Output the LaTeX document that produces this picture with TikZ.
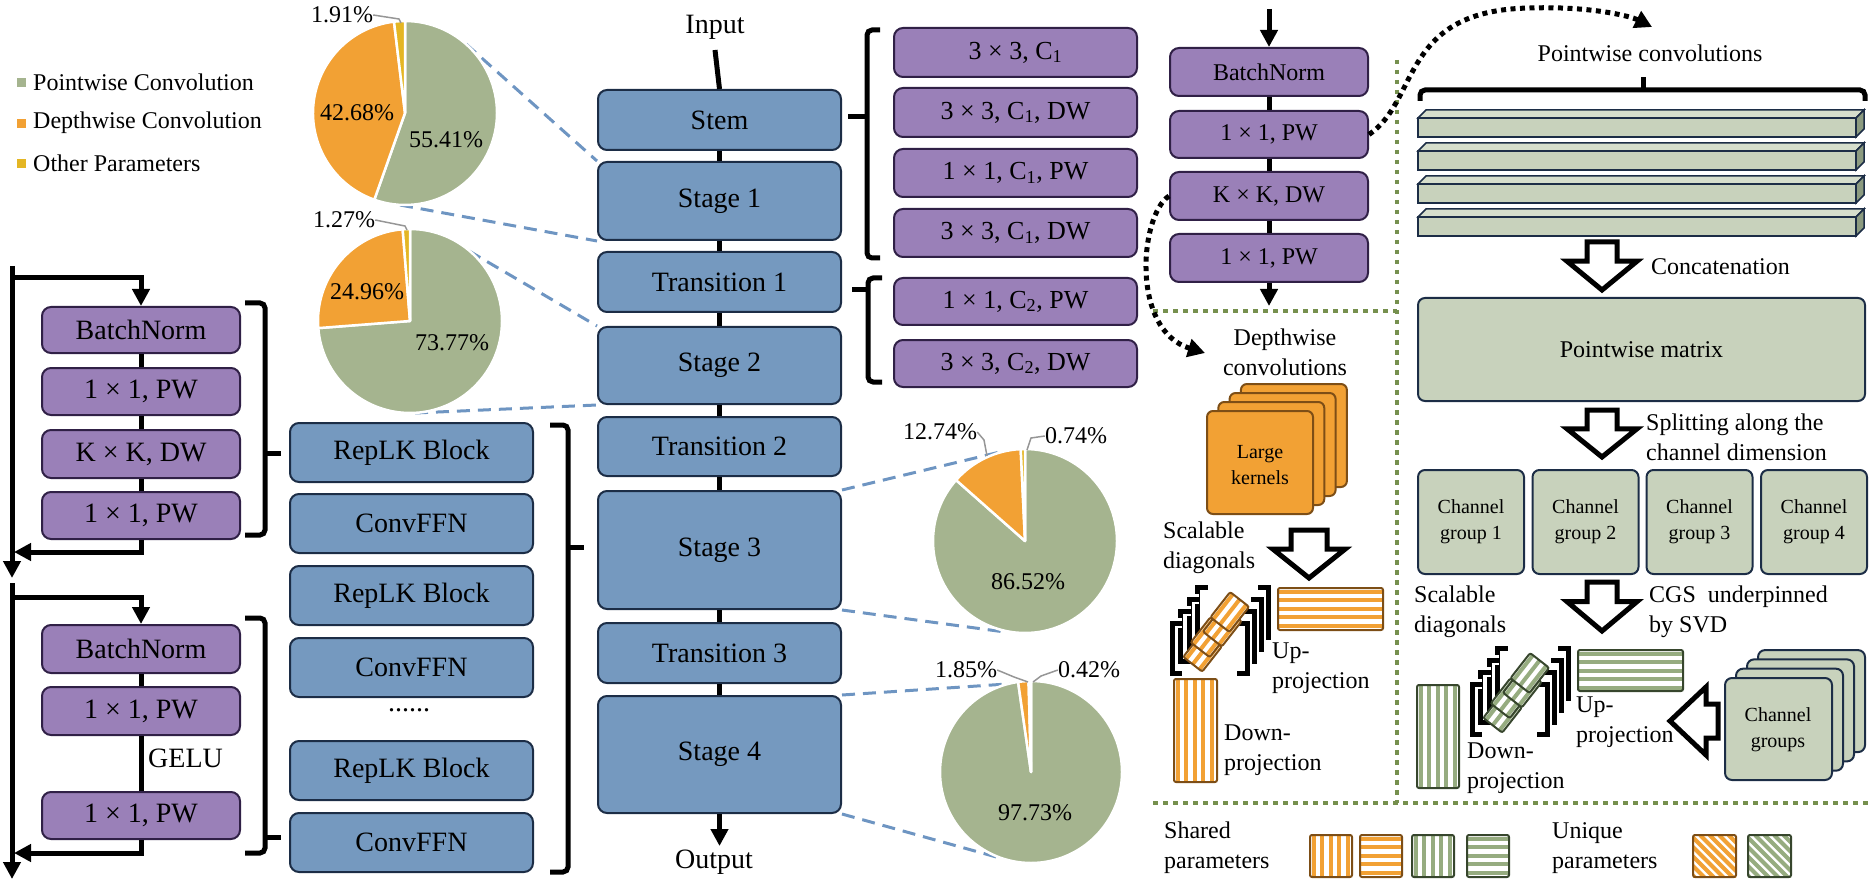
\documentclass[tikz,border=0pt]{standalone}
\usepackage{fontspec}
\setmainfont{Liberation Serif}
\usetikzlibrary{arrows.meta,calc}
\definecolor{bluebox}{RGB}{117,153,191}
\definecolor{blueedge}{RGB}{28,45,70}
\definecolor{purplebox}{RGB}{154,128,184}
\definecolor{purpleedge}{RGB}{48,32,70}
\definecolor{piegreen}{RGB}{165,180,143}
\definecolor{pieorange}{RGB}{242,161,52}
\definecolor{pieyellow}{RGB}{228,182,36}
\definecolor{lightgreen}{RGB}{200,210,188}
\definecolor{topgreen}{RGB}{214,222,204}
\definecolor{sidegreen}{RGB}{140,155,128}
\definecolor{dashblue}{RGB}{110,149,194}
\definecolor{dotgreen}{RGB}{118,144,78}
\definecolor{orangeedge}{RGB}{125,78,22}
\definecolor{stripegreen}{RGB}{150,172,128}
\definecolor{greenborder}{RGB}{55,70,45}
\definecolor{leader}{RGB}{150,150,150}
\newcommand\fsBig{\fontsize{28}{32}\selectfont}
\newcommand\fsMid{\fontsize{26}{30}\selectfont}
\newcommand\fsTxt{\fontsize{24}{30}\selectfont}
\newcommand\fsSml{\fontsize{20}{26}\selectfont}
% striped boxes: x1,y1,x2,y2,stripe colour,edge colour
\newcommand\stripeH[6]{%
  \fill[white] (#1,#2) rectangle (#3,#4);
  \begin{scope}
    \clip (#1,#2) rectangle (#3,#4);
    \foreach \ii in {0,...,13}{\draw[#5,line width=4pt] (#1,#2+3.5+\ii*8.5) -- (#3,#2+3.5+\ii*8.5);}
  \end{scope}
  \draw[#6,line width=2pt,rounded corners=2pt] (#1,#2) rectangle (#3,#4);}
\newcommand\stripeV[6]{%
  \fill[white] (#1,#2) rectangle (#3,#4);
  \begin{scope}
    \clip (#1,#2) rectangle (#3,#4);
    \foreach \ii in {0,...,13}{\draw[#5,line width=4pt] (#1+3.5+\ii*8.5,#2) -- (#1+3.5+\ii*8.5,#4);}
  \end{scope}
  \draw[#6,line width=2pt,rounded corners=2pt] (#1,#2) rectangle (#3,#4);}
\newcommand\stripeD[6]{%
  \fill[white] (#1,#2) rectangle (#3,#4);
  \begin{scope}
    \clip (#1,#2) rectangle (#3,#4);
    \foreach \ii in {0,...,14}{\draw[#5,line width=4pt] (#1-50+\ii*9.5,#2) -- (#1+10+\ii*9.5,#2+60);}
  \end{scope}
  \draw[#6,line width=2pt,rounded corners=2pt] (#1,#2) rectangle (#3,#4);}
% pie slice: centre, radius, start, end, colour
\newcommand\slice[5]{\fill[#5,draw=white,line width=2.5pt,line join=round] (#1) -- ++(#3:#2) arc[start angle=#3,end angle=#4,radius=#2] -- cycle;}
% hollow down arrow: cx, top, bottom, shaft half, head half
\newcommand\hollowdown[5]{\draw[hollow] (#1-#4,#2) -- (#1+#4,#2) -- (#1+#4,{#2+(#3-#2)*0.4}) -- (#1+#5,{#2+(#3-#2)*0.4}) -- (#1,#3) -- (#1-#5,{#2+(#3-#2)*0.4}) -- (#1-#4,{#2+(#3-#2)*0.4}) -- cycle;}
% scalable-diagonal cluster: x, y, stripe colour, edge colour
\newcommand\diagcl[4]{%
\begin{scope}[shift={(#1,#2)}]
  \foreach \k in {3,2,1,0}{
    \draw[white,line width=10pt] ({8.5*\k+10},{36-12*\k}) -- ({8.5*\k},{36-12*\k}) -- ({8.5*\k},{86-12*\k}) -- ({8.5*\k+10},{86-12*\k});
    \draw[line width=5pt] ({8.5*\k+10},{36-12*\k}) -- ({8.5*\k},{36-12*\k}) -- ({8.5*\k},{86-12*\k}) -- ({8.5*\k+10},{86-12*\k});
    \draw[white,line width=10pt] ({75+7*\k-10},{36-12*\k}) -- ({75+7*\k},{36-12*\k}) -- ({75+7*\k},{86-12*\k}) -- ({75+7*\k-10},{86-12*\k});
    \draw[line width=5pt] ({75+7*\k-10},{36-12*\k}) -- ({75+7*\k},{36-12*\k}) -- ({75+7*\k},{86-12*\k}) -- ({75+7*\k-10},{86-12*\k});
  }
  \begin{scope}[shift={(47,42)},rotate=52]
    \stripeH{-44}{-11}{-12}{13}{#3}{#4}
    \stripeH{-28}{-14}{4}{10}{#3}{#4}
    \stripeH{-12}{-11}{20}{13}{#3}{#4}
    \stripeH{4}{-14}{36}{10}{#3}{#4}
  \end{scope}
\end{scope}}
\begin{document}
\begin{tikzpicture}[x=1pt,y=-1pt,
 bstyle/.style={draw=blueedge,line width=2pt,fill=bluebox,rounded corners=9pt,minimum width=243pt,font=\fsBig,inner sep=0pt},
 pstyle/.style={draw=purpleedge,line width=2pt,fill=purplebox,rounded corners=9pt,font=\fsBig,inner sep=0pt},
 gstyle/.style={draw=blueedge,line width=2pt,fill=lightgreen,rounded corners=7pt,inner sep=0pt},
 conn/.style={line width=5pt},
 arr/.style={line width=5pt,-{Triangle[length=17pt,width=17pt]}},
 brk/.style={line width=5pt,rounded corners=5pt},
 pdash/.style={dashblue,line width=3pt,dash pattern=on 13pt off 8pt},
 gdot/.style={dotgreen,line width=4.5pt,dash pattern=on 4.5pt off 5.5pt},
 bdot/.style={line width=5pt,dash pattern=on 5pt off 4.5pt,-{Triangle[length=17pt,width=18pt]}},
 hollow/.style={draw=black,fill=white,line width=5pt,line join=miter},
 lead/.style={leader,line width=1.5pt},
 lbl/.style={font=\fsTxt,inner sep=0pt},
]
\useasboundingbox (0,0) rectangle (1870,882);

% ---------- legend ----------
\fill[piegreen] (17,78) rectangle (26,87);
\fill[pieorange] (17,119) rectangle (26,128);
\fill[pieyellow] (17,159) rectangle (26,168);
\node[lbl,anchor=west] (lg1) at (33,82) {Pointwise Convolution};
\node[lbl,anchor=west] (lg2) at (33,123) {Depthwise Convolution};
\node[lbl,anchor=west] (lg3) at (33,163) {Other Parameters};

% ---------- main column ----------
\node[bstyle,minimum height=60pt] (stem) at (719.5,120) {Stem};
\node[bstyle,minimum height=78pt] (st1) at (719.5,201) {Stage 1};
\node[bstyle,minimum height=60pt] (tr1) at (719.5,282) {Transition 1};
\node[bstyle,minimum height=77pt] (st2) at (719.5,365.5) {Stage 2};
\node[bstyle,minimum height=59pt] (tr2) at (719.5,446.5) {Transition 2};
\node[bstyle,minimum height=118pt] (st3) at (719.5,550) {Stage 3};
\node[bstyle,minimum height=60pt] (tr3) at (719.5,653) {Transition 3};
\node[bstyle,minimum height=117pt] (st4) at (719.5,754.5) {Stage 4};
\node[font=\fsBig,inner sep=0pt] (inp) at (715,27) {Input};
\node[font=\fsBig,inner sep=0pt] (outp) at (714,862) {Output};
\draw[conn] (715,50) -- (stem.north);
\draw[conn] (stem.south) -- (st1.north);
\draw[conn] (st1.south) -- (tr1.north);
\draw[conn] (tr1.south) -- (st2.north);
\draw[conn] (st2.south) -- (tr2.north);
\draw[conn] (tr2.south) -- (st3.north);
\draw[conn] (st3.south) -- (tr3.north);
\draw[conn] (tr3.south) -- (st4.north);
\draw[arr] (st4.south) -- (719.5,846);

% ---------- stem purple boxes ----------
\node[pstyle,minimum width=243pt,minimum height=49pt,font=\fsMid] (p1) at (1015.5,52.5) {3 × 3, C\textsubscript{1}};
\node[pstyle,minimum width=243pt,minimum height=49pt,font=\fsMid] (p2) at (1015.5,112.5) {3 × 3, C\textsubscript{1}, DW};
\node[pstyle,minimum width=243pt,minimum height=48pt,font=\fsMid] (p3) at (1015.5,173) {1 × 1, C\textsubscript{1}, PW};
\node[pstyle,minimum width=243pt,minimum height=48pt,font=\fsMid] (p4) at (1015.5,233) {3 × 3, C\textsubscript{1}, DW};
\node[pstyle,minimum width=243pt,minimum height=47pt,font=\fsMid] (p5) at (1015.5,301.5) {1 × 1, C\textsubscript{2}, PW};
\node[pstyle,minimum width=243pt,minimum height=47pt,font=\fsMid] (p6) at (1015.5,363.5) {3 × 3, C\textsubscript{2}, DW};
\draw[brk] (880,30) -- (867,30) -- (867,258) -- (880,258);
\draw[line width=5pt] (867,117) -- (848,117);
\draw[brk] (882,278) -- (868,278) -- (868,382) -- (882,382);
\draw[line width=5pt] (868,290) -- (852,290);

% ---------- RepLK column ----------
\node[bstyle,minimum height=59pt] (rb1) at (411.5,452.5) {RepLK Block};
\node[bstyle,minimum height=59pt] (cf1) at (411.5,523.5) {ConvFFN};
\node[bstyle,minimum height=59pt] (rb2) at (411.5,595.5) {RepLK Block};
\node[bstyle,minimum height=59pt] (cf2) at (411.5,667.5) {ConvFFN};
\node[font=\fsBig,inner sep=0pt] (dots) at (409,710) {......};
\node[bstyle,minimum height=59pt] (rb3) at (411.5,770.5) {RepLK Block};
\node[bstyle,minimum height=59pt] (cf3) at (411.5,842.5) {ConvFFN};
\draw[brk] (550,425) -- (568,425) -- (568,872) -- (550,872);
\draw[line width=5pt] (568,547) -- (584,547);

% ---------- left purple blocks ----------
\node[pstyle,minimum width=198pt,minimum height=46pt] (lbn1) at (141,330) {BatchNorm};
\node[pstyle,minimum width=198pt,minimum height=47pt] (lpw1) at (141,391.5) {1 × 1, PW};
\node[pstyle,minimum width=198pt,minimum height=48pt] (ldw) at (141,454) {K × K, DW};
\node[pstyle,minimum width=198pt,minimum height=47pt] (lpw2) at (141,515.5) {1 × 1, PW};
\node[pstyle,minimum width=198pt,minimum height=48pt] (lbn2) at (141,649) {BatchNorm};
\node[pstyle,minimum width=198pt,minimum height=48pt] (lpw3) at (141,711) {1 × 1, PW};
\node[pstyle,minimum width=198pt,minimum height=47pt] (lpw4) at (141,815.5) {1 × 1, PW};
\node[font=\fsBig,inner sep=0pt,anchor=west] (gelu) at (148,758) {GELU};
\draw[conn] (lbn1.south) -- (lpw1.north);
\draw[conn] (lpw1.south) -- (ldw.north);
\draw[conn] (ldw.south) -- (lpw2.north);
\draw[conn] (lbn2.south) -- (lpw3.north);
\draw[conn] (lpw3.south) -- (lpw4.north);
\draw[arr] (12,266) -- (12,578);
\draw[arr] (12,278) -- (141,278) -- (lbn1.north);
\draw[arr] (lpw2.south) -- (141,552) -- (14,552);
\draw[arr] (12,583) -- (12,879);
\draw[arr] (12,597) -- (141,597) -- (lbn2.north);
\draw[arr] (lpw4.south) -- (141,853) -- (14,853);
\draw[brk] (245,303) -- (265,303) -- (265,535) -- (245,535);
\draw[line width=5pt] (265,453) -- (281,453);
\draw[brk] (245,618) -- (265,618) -- (265,853) -- (245,853);
\draw[line width=5pt] (265,837) -- (281,837);

% ---------- dashed zoom lines ----------
\coordinate (pc1) at (405,113);
\coordinate (pc2) at (410,321);
\coordinate (pc3) at (1025,541);
\coordinate (pc4) at (1031,772);
\draw[pdash] (466,44) -- (st1.north west);
\draw[pdash] (400,205) -- (st1.south west);
\draw[pdash] (469,251) -- (st2.north west);
\draw[pdash] (415,413) -- (st2.south west);
\draw[pdash] (st3.north east) -- (1000,452);
\draw[pdash] (st3.south east) -- (1005,632);
\draw[pdash] (st4.north east) -- (1022,683);
\draw[pdash] (st4.south east) -- (1000,858);

% ---------- pies ----------
\slice{pc1}{92}{-90}{109.48}{piegreen}
\slice{pc1}{92}{109.48}{263.13}{pieorange}
\slice{pc1}{92}{263.13}{270}{pieyellow}
\slice{pc2}{92}{-90}{175.57}{piegreen}
\slice{pc2}{92}{175.57}{265.43}{pieorange}
\slice{pc2}{92}{265.43}{270}{pieyellow}
\slice{pc3}{92}{-90}{221.47}{piegreen}
\slice{pc3}{92}{221.47}{267.33}{pieorange}
\slice{pc3}{92}{267.33}{270}{pieyellow}
\slice{pc4}{91}{-90}{261.83}{piegreen}
\slice{pc4}{91}{261.83}{268.49}{pieorange}
\slice{pc4}{91}{268.49}{270}{pieyellow}
\node[lbl] (a1) at (342,15) {1.91\%};
\node[lbl] (a2) at (357,113) {42.68\%};
\node[lbl] (a3) at (446,140) {55.41\%};
\node[lbl] (b1) at (344,220) {1.27\%};
\node[lbl] (b2) at (367,292) {24.96\%};
\node[lbl] (b3) at (452,343) {73.77\%};
\node[lbl] (c1) at (940,432) {12.74\%};
\node[lbl] (c2) at (1076,436) {0.74\%};
\node[lbl] (c3) at (1028,582) {86.52\%};
\node[lbl] (d1) at (966,670) {1.85\%};
\node[lbl] (d2) at (1089,670) {0.42\%};
\node[lbl] (d3) at (1035,813) {97.73\%};
\draw[lead] (a1.east) -- (399,19) -- (401,23);
\draw[lead] (b1.east) -- (405,226) -- (407,230);
\draw[lead] (c1.east) -- (984,440) -- (987,456);
\draw[lead] (c2.west) -- (1031,438) -- (1027,450);
\draw[lead] (d1.east) -- (1014,677) -- (1028,682);
\draw[lead] (d2.west) -- (1041,676) -- (1033,682);

% ---------- right purple block ----------
\node[pstyle,minimum width=198pt,minimum height=48pt,font=\fsTxt] (rbn) at (1269,72) {BatchNorm};
\node[pstyle,minimum width=198pt,minimum height=47pt,font=\fsTxt] (rpw1) at (1269,134.5) {1 × 1, PW};
\node[pstyle,minimum width=198pt,minimum height=48pt,font=\fsTxt] (rdw) at (1269,196) {K × K, DW};
\node[pstyle,minimum width=198pt,minimum height=48pt,font=\fsTxt] (rpw2) at (1269,258) {1 × 1, PW};
\draw[arr] (1269,9) -- (rbn.north);
\draw[conn] (rbn.south) -- (rpw1.north);
\draw[conn] (rpw1.south) -- (rdw.north);
\draw[conn] (rdw.south) -- (rpw2.north);
\draw[arr] (rpw2.south) -- (1269,306);

% ---------- green dotted separators ----------
\draw[gdot] (1153,311) -- (1397,311);
\draw[gdot] (1397,60) -- (1397,803);
\draw[gdot] (1153,803) -- (1870,803);

% ---------- depthwise panel ----------
\node[font=\fsTxt,align=center,inner sep=0pt] (dwc) at (1285,352) {Depthwise\\convolutions};
\foreach \k in {3,2,1,0}{
  \draw[fill=pieorange,draw=orangeedge,line width=2pt,rounded corners=6pt] ({1207+11.3*\k},{411-9*\k}) rectangle ({1313+11.3*\k},{514-9*\k});
}
\node[font=\fsSml,align=center,inner sep=0pt] (lk) at (1260,465) {Large\\kernels};
\node[font=\fsTxt,align=left,inner sep=0pt,anchor=west] (sd1) at (1163,548) {Scalable\\diagonals};
\hollowdown{1309}{530}{578}{18}{36}
\diagcl{1172}{587}{pieorange}{orangeedge}
\stripeH{1278}{588}{1383}{630}{pieorange}{orangeedge}
\stripeV{1174}{679}{1217}{782}{pieorange}{orangeedge}
\node[font=\fsTxt,align=left,inner sep=0pt,anchor=west] (up1) at (1272,668) {Up-\\projection};
\node[font=\fsTxt,align=left,inner sep=0pt,anchor=west] (dn1) at (1224,750) {Down-\\projection};
\draw[bdot] (rdw.west) .. controls (1140,215) and (1130,330) .. (1205,353);

% ---------- pointwise panel ----------
\node[font=\fsTxt,inner sep=0pt] (pwc) at (1650,53) {Pointwise convolutions};
\draw[bdot] (rpw1.east) .. controls (1420,100) and (1400,10) .. (1530,8) .. controls (1590,6) and (1630,16) .. (1652,27);
\draw[brk] (1420,101) -- (1420,90) -- (1865,90) -- (1865,101);
\draw[line width=5pt] (1643,90) -- (1643,77);
\foreach \t in {118,151,184,217}{
  \draw[blueedge,line width=1.5pt,fill=topgreen] (1418,\t) -- (1426,\t-8) -- (1864,\t-8) -- (1856,\t) -- cycle;
  \draw[blueedge,line width=1.5pt,fill=sidegreen] (1856,\t) -- (1864,\t-8) -- (1864,\t+11) -- (1856,\t+19) -- cycle;
  \draw[blueedge,line width=2pt,fill=lightgreen] (1418,\t) rectangle (1856,\t+19);
}
\hollowdown{1602}{242}{290}{15}{35}
\node[font=\fsTxt,inner sep=0pt,anchor=west] (cat) at (1651,267) {Concatenation};
\node[gstyle,minimum width=447pt,minimum height=103pt,font=\fsTxt] (pm) at (1641.5,349.5) {Pointwise matrix};
\hollowdown{1602}{410}{457}{15}{35}
\node[font=\fsTxt,align=left,inner sep=0pt,anchor=west] (spl) at (1646,437) {Splitting along the\\channel dimension};
\node[gstyle,minimum width=106pt,minimum height=104pt,font=\fsSml,align=center] (cg1) at (1471,522) {Channel\\group 1};
\node[gstyle,minimum width=106pt,minimum height=104pt,font=\fsSml,align=center] (cg2) at (1585.5,522) {Channel\\group 2};
\node[gstyle,minimum width=106pt,minimum height=104pt,font=\fsSml,align=center] (cg3) at (1699.5,522) {Channel\\group 3};
\node[gstyle,minimum width=106pt,minimum height=104pt,font=\fsSml,align=center] (cg4) at (1814,522) {Channel\\group 4};
\hollowdown{1602}{582}{631}{15}{35}
\node[font=\fsTxt,align=left,inner sep=0pt,anchor=west] (cgs) at (1649,612) {CGS~ underpinned\\by SVD};
\node[font=\fsTxt,align=left,inner sep=0pt,anchor=west] (sd2) at (1414,612) {Scalable\\diagonals};
\diagcl{1472}{648}{stripegreen}{greenborder}
\stripeH{1578}{650}{1683}{691}{stripegreen}{greenborder}
\stripeV{1417}{685}{1459}{788}{stripegreen}{greenborder}
\node[font=\fsTxt,align=left,inner sep=0pt,anchor=west] (up2) at (1576,722) {Up-\\projection};
\node[font=\fsTxt,align=left,inner sep=0pt,anchor=west] (dn2) at (1467,768) {Down-\\projection};
\draw[hollow] (1718,704) -- (1706,704) -- (1706,687) -- (1670,721) -- (1706,755) -- (1706,738) -- (1718,738) -- cycle;
\foreach \k in {3,2,1,0}{
  \draw[gstyle] ({1725+11*\k},{678-9.3*\k}) rectangle ({1832+11*\k},{780-9.3*\k});
}
\node[font=\fsSml,align=center,inner sep=0pt] (cgs4) at (1778,730) {Channel\\groups};

% ---------- bottom legend ----------
\node[font=\fsTxt,align=left,inner sep=0pt,anchor=west] (shp) at (1164,848) {Shared\\parameters};
\stripeV{1310}{835}{1352}{877}{pieorange}{orangeedge}
\stripeH{1360}{835}{1402}{877}{pieorange}{orangeedge}
\stripeV{1412}{835}{1454}{877}{stripegreen}{greenborder}
\stripeH{1467}{835}{1509}{877}{stripegreen}{greenborder}
\node[font=\fsTxt,align=left,inner sep=0pt,anchor=west] (unp) at (1552,848) {Unique\\parameters};
\stripeD{1693}{835}{1736}{877}{pieorange}{orangeedge}
\stripeD{1748}{835}{1791}{877}{stripegreen}{greenborder}
\end{tikzpicture}
\end{document}
